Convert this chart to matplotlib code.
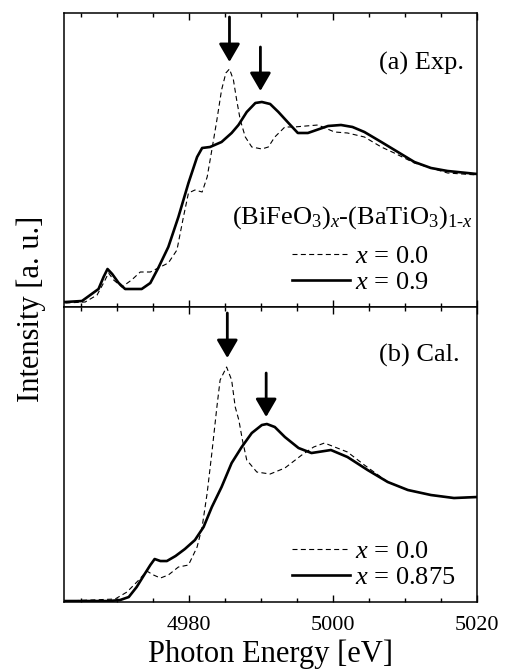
import numpy as np
import matplotlib
matplotlib.use('Agg')
import matplotlib.pyplot as plt

plt.rcParams['font.family'] = ['Liberation Serif', 'DejaVu Serif']
plt.rcParams['mathtext.fontset'] = 'custom'
plt.rcParams['mathtext.rm'] = 'Liberation Serif'
plt.rcParams['mathtext.it'] = 'Liberation Serif:italic'

# (a) Exp.  x = 0.9 (solid)
exp_solid_e = [4962.8, 4965.1, 4966.25, 4967.4, 4968.1, 4968.65, 4969.3, 4970.2, 4971.1,
               4973.4, 4974.6, 4975.7, 4977.1, 4978.5, 4979.9, 4981.1, 4981.8, 4982.9,
               4984.5, 4985.9, 4986.85, 4988.0, 4989.2, 4990.1, 4991.25, 4992.4, 4993.8,
               4995.1, 4996.5, 4999.3, 5001.1, 5002.7, 5004.35, 5006.7, 5009.0, 5011.3,
               5013.6, 5015.9, 5020.0]
exp_solid_i = [0.02, 0.03, 0.09, 0.15, 0.27, 0.35, 0.30, 0.21, 0.15,
               0.15, 0.21, 0.36, 0.57, 0.87, 1.21, 1.47, 1.56, 1.57,
               1.62, 1.71, 1.79, 1.92, 2.01, 2.02, 2.00, 1.92, 1.81,
               1.71, 1.71, 1.78, 1.79, 1.77, 1.72, 1.62, 1.52, 1.42,
               1.36, 1.33, 1.30]

# (a) Exp.  x = 0.0 (dashed)
exp_dash_e = [4962.8, 4965.55, 4967.2, 4968.1, 4968.8, 4969.5, 4970.65, 4972.0, 4973.2,
              4974.6, 4975.7, 4977.1, 4978.3, 4979.2, 4979.9, 4980.8, 4981.8, 4982.5,
              4983.15, 4983.85, 4984.5, 4985.1, 4985.6, 4986.15, 4986.6, 4987.1, 4987.8,
              4988.7, 4990.1, 4991.0, 4991.9, 4993.3, 4994.6, 4997.9, 5000.2, 5002.0,
              5004.35, 5006.7, 5008.5, 5011.3, 5015.9, 5020.0]
exp_dash_i = [0.01, 0.02, 0.09, 0.21, 0.31, 0.24, 0.17, 0.24, 0.32,
              0.32, 0.36, 0.41, 0.54, 0.87, 1.11, 1.14, 1.12, 1.27,
              1.54, 1.84, 2.14, 2.31, 2.35, 2.24, 2.04, 1.84, 1.67,
              1.57, 1.55, 1.57, 1.67, 1.77, 1.77, 1.79, 1.72, 1.71,
              1.67, 1.57, 1.51, 1.41, 1.31, 1.29]

# (b) Cal.  x = 0.875 (solid)
cal_solid_e = [4962.8, 4968.8, 4970.4, 4971.6, 4972.7, 4973.9, 4974.6, 4975.2, 4976.0,
               4976.9, 4978.1, 4979.4, 4980.8, 4982.0, 4983.15, 4984.5, 4985.9, 4987.3,
               4988.7, 4990.1, 4990.8, 4991.9, 4993.3, 4995.2, 4997.0, 4999.7, 5002.0,
               5004.8, 5007.6, 5010.4, 5013.6, 5016.8, 5020.0]
cal_solid_i = [0.00, 0.00, 0.01, 0.04, 0.14, 0.28, 0.36, 0.42, 0.40,
               0.40, 0.45, 0.52, 0.61, 0.74, 0.94, 1.14, 1.38, 1.54,
               1.68, 1.76, 1.77, 1.74, 1.64, 1.53, 1.48, 1.51, 1.44,
               1.31, 1.19, 1.11, 1.06, 1.03, 1.04]

# (b) Cal.  x = 0.0 (dashed)
cal_dash_e = [4962.8, 4969.7, 4971.35, 4973.0, 4974.1, 4975.05, 4976.0, 4977.1, 4978.5,
              4979.9, 4981.1, 4981.8, 4982.5, 4983.15, 4983.85, 4984.3, 4985.2, 4985.9,
              4986.4, 4986.9, 4987.4, 4988.0, 4989.4, 4991.25, 4993.3, 4995.65, 4997.3,
              4998.8, 5002.0, 5004.35, 5007.6, 5010.4, 5013.6, 5016.8, 5020.0]
cal_dash_i = [0.00, 0.02, 0.09, 0.21, 0.30, 0.26, 0.23, 0.26, 0.34,
              0.36, 0.54, 0.74, 1.08, 1.48, 1.94, 2.21, 2.34, 2.21,
              1.94, 1.81, 1.61, 1.41, 1.29, 1.27, 1.33, 1.46, 1.54,
              1.58, 1.49, 1.36, 1.19, 1.11, 1.06, 1.03, 1.04]

# arrows: energy, tail, tip
exp_arrow_e = [4985.6, 4989.9]
exp_arrow_tail = [2.87, 2.57]
exp_arrow_tip = [2.42, 2.13]
cal_arrow_e = [4985.3, 4990.7]
cal_arrow_tail = [2.88, 2.28]
cal_arrow_tip = [2.43, 1.84]

xticks_major = [4980, 5000, 5020]

fig = plt.figure(figsize=(5.07, 6.69), dpi=100)
ax1 = fig.add_axes([0.1262, 0.5411, 0.8146, 0.4395])
ax2 = fig.add_axes([0.1262, 0.1001, 0.8146, 0.4410], sharex=ax1)

panels = [
    (ax1, exp_dash_e, exp_dash_i, exp_solid_e, exp_solid_i, exp_arrow_e, exp_arrow_tail,
     exp_arrow_tip, (-0.03, 2.91), '(a) Exp.', '0.9'),
    (ax2, cal_dash_e, cal_dash_i, cal_solid_e, cal_solid_i, cal_arrow_e, cal_arrow_tail,
     cal_arrow_tip, (-0.01, 2.94), '(b) Cal.', '0.875'),
]

for ax, de, di, se, si, ae, at, ap, ylim, tag, xval in panels:
    ax.plot(de, di, color='black', lw=0.8, ls=(0, (4.5, 3)), label=r'$x$ = 0.0')
    ax.plot(se, si, color='black', lw=1.9, label=r'$x$ = ' + xval)
    for e, t, p in zip(ae, at, ap):
        ax.annotate('', xy=(e, p), xytext=(e, t),
                    arrowprops=dict(arrowstyle='-|>,head_length=0.55,head_width=0.32',
                                    mutation_scale=20, lw=2, color='black',
                                    shrinkA=0, shrinkB=0))
    ax.set_xlim(4962.6, 5020)
    ax.set_ylim(*ylim)
    ax.set_yticks([])
    ax.set_xticks(xticks_major)
    ax.set_xticks(np.arange(4965, 5020, 5), minor=True)
    ax.tick_params(axis='x', which='both', direction='in', top=True, bottom=True)
    ax.tick_params(axis='x', which='major', length=5, width=1, labelsize=16, pad=10)
    ax.tick_params(axis='x', which='minor', length=3, width=1)
    for sp in ax.spines.values():
        sp.set_linewidth(1.1)
    ax.legend(loc='center left', bbox_to_anchor=(0.552, 0.128), frameon=False,
              fontsize=19, handlelength=2.2, handletextpad=0.2, labelspacing=0.08,
              borderpad=0, borderaxespad=0)

ax1.tick_params(axis='x', labelbottom=False)
ax1.text(0.969, 0.830, '(a) Exp.', transform=ax1.transAxes, ha='right', va='center', fontsize=19)
ax2.text(0.959, 0.837, '(b) Cal.', transform=ax2.transAxes, ha='right', va='center', fontsize=19)
ax1.text(0.99, 0.303, r'(BiFeO$_3$)$_x$-(BaTiO$_3$)$_{1\text{-}x}$', transform=ax1.transAxes,
         ha='right', va='center', fontsize=19)

ax2.set_xlabel('Photon Energy [eV]', fontsize=22, labelpad=3)
fig.text(0.061, 0.539, 'Intensity [a. u.]', rotation=90, ha='center', va='center', fontsize=22)

fig.savefig('out.png', dpi=100)
